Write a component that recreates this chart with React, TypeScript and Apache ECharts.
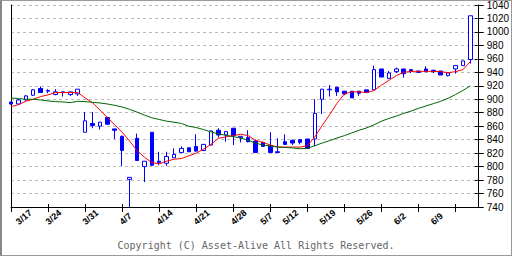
import React, { useEffect, useRef } from "react";
import * as echarts from "echarts";

const dates = [
  "3/17", "3/18", "3/19", "3/21", "3/24", "3/25", "3/26", "3/27", "3/28", "3/31",
  "4/1", "4/2", "4/3", "4/4", "4/7", "4/8", "4/9", "4/10", "4/11", "4/14",
  "4/15", "4/16", "4/17", "4/18", "4/21", "4/22", "4/23", "4/24", "4/25", "4/28",
  "4/30", "5/1", "5/2", "5/7", "5/8", "5/9", "5/12", "5/13", "5/14", "5/15",
  "5/16", "5/19", "5/20", "5/21", "5/22", "5/23", "5/26", "5/27", "5/28", "5/29",
  "5/30", "6/2", "6/3", "6/4", "6/5", "6/6", "6/9", "6/10", "6/11", "6/12",
  "6/13", "6/16", "6/17", ""
];

const labelDates = ["3/17", "3/24", "3/31", "4/7", "4/14", "4/21", "4/28", "5/7", "5/12", "5/19", "5/26", "6/2", "6/9"];

const opens = [
  896, 893, 899, 906, 916, 912, 907, 911, 907, 908,
  851, 864, 860, 873, 856, 845, 781, 842, 800, 851,
  808, 805, 813, 821, 828, 830, 824, 832, 854, 847,
  857, 843, 843, 838, 836, 831, 822, 837, 839, 840,
  841, 841, 900, 914, 918, 912, 912, 912, 914, 914,
  945, 931, 941, 945, 944, 942, 945, 943, 942, 935,
  945, 950, 959
];
const closes = [
  893, 899, 905, 914, 910, 913, 911, 910, 911, 915,
  868, 861, 866, 863, 854, 824, 784, 809, 808, 802,
  806, 815, 818, 827, 822, 823, 833, 853, 847, 852,
  846, 845, 837, 821, 830, 821, 821, 833, 835, 836,
  827, 879, 915, 915, 911, 908, 902, 909, 910, 944,
  933, 939, 945, 938, 942, 940, 941, 941, 936, 939,
  950, 957, 1024
];
const lows = [
  892, 892, 898, 905, 910, 909, 906, 904, 905, 905,
  851, 857, 855, 862, 841, 801, 740, 809, 777, 801,
  802, 801, 813, 821, 822, 822, 823, 832, 843, 837,
  832, 836, 836, 821, 829, 821, 820, 833, 832, 833,
  826, 830, 878, 904, 905, 906, 902, 905, 910, 913,
  933, 930, 939, 932, 939, 939, 940, 939, 936, 934,
  938, 950, 953
];
const highs = [
  896, 900, 906, 915, 919, 915, 915, 911, 911, 915,
  881, 881, 866, 874, 856, 846, 784, 849, 808, 851,
  822, 822, 827, 830, 828, 848, 833, 853, 857, 852,
  857, 845, 854, 840, 837, 851, 842, 848, 840, 840,
  841, 900, 915, 921, 918, 912, 912, 912, 914, 950,
  945, 942, 947, 945, 944, 942, 949, 944, 942, 940,
  951, 957, 1024
];

const maShort = [
  889, 892, 897, 900, 904, 906.5, 910, 910, 910, 910,
  902, 895, 884, 873, 862, 851, 838, 824, 814, 806,
  804, 808, 811, 812, 816, 820, 826, 833, 842, 844,
  846, 848, 846, 839, 836, 832, 829, 829, 829, 829,
  831, 844, 861, 877, 894, 908, 911, 911, 910, 913,
  921, 928, 935, 940, 941.5, 941.5, 941.5, 941.5, 941, 939.5,
  941, 944, 956
];
const maLong = [
  902, 901, 900, 900, 899, 897.5, 896.5, 896, 895, 897,
  896.5, 895.5, 894.5, 893, 891, 888.5, 885, 881, 876.5, 872.5,
  870, 867.5, 866, 864, 860, 858, 855, 851.5, 848.5, 846.5,
  844.5, 842.5, 839, 835, 832, 830.5, 829, 828.3, 827.8, 826.6,
  827, 831, 835, 838.5, 842.5, 846, 850, 854, 857.5, 862,
  867.5, 871.5, 875, 879, 882.5, 886.5, 890, 893.5, 897, 901.5,
  907, 913, 920
];

const yTicksMin = 740;
const yTicksMax = 1040;
const yStep = 20;

export default function App() {
  const ref = useRef<HTMLDivElement>(null);
  useEffect(() => {
    if (!ref.current) return;
    const chart = echarts.init(ref.current, undefined, { renderer: "svg" });
    const candles = opens.map((o, i) => [o, closes[i], lows[i], highs[i]]);
    const labelSet = new Set(labelDates);
    const option: any = {
      animation: false,
      backgroundColor: "#ffffff",
      title: {
        text: "Copyright (C) Asset-Alive All Rights Reserved.",
        left: "center",
        top: 240,
        padding: 0,
        textStyle: { fontFamily: "DejaVu Sans Mono", fontSize: 10, fontWeight: "normal", color: "#666666" },
      },
      grid: { left: 11, right: 33, top: 5, bottom: 49 },
      xAxis: [
        {
          type: "category",
          data: dates,
          boundaryGap: false,
          axisLine: { show: true, lineStyle: { color: "#000", width: 1 } },
          axisTick: { show: true, interval: 4, length: 5, lineStyle: { color: "#000" } },
          axisLabel: {
            show: true,
            interval: (idx: number, val: string) => labelSet.has(val),
            rotate: 40,
            align: "left",
            verticalAlign: "middle",
            margin: 21,
            padding: [0, 0, 0, 8],
            fontSize: 9,
            fontWeight: "bold",
            fontFamily: "Liberation Sans",
            color: "#000",
          },
          splitLine: { show: false },
        },
        {
          type: "category",
          data: dates,
          boundaryGap: false,
          position: "bottom",
          axisLine: { show: false },
          axisTick: { show: true, inside: true, interval: 4, length: 3, lineStyle: { color: "#000" } },
          axisLabel: { show: false },
          splitLine: { show: false },
        },
      ],
      yAxis: [
        {
          type: "value",
          position: "right",
          min: yTicksMin,
          max: yTicksMax,
          interval: yStep,
          axisLine: { show: true, lineStyle: { color: "#000", width: 1 } },
          axisTick: { show: true, length: 6, lineStyle: { color: "#000" } },
          axisLabel: {
            margin: 9,
            fontSize: 10,
            fontFamily: "Liberation Sans",
            color: "#000",
            formatter: (v: number) => String(v),
          },
          splitLine: { show: true, lineStyle: { color: "#bbbbbb", type: [3, 3], width: 1 } },
        },
        {
          type: "value",
          position: "left",
          min: yTicksMin,
          max: yTicksMax,
          interval: yStep,
          axisLine: { show: true, onZero: false, lineStyle: { color: "#000", width: 1 } },
          axisTick: { show: false },
          axisLabel: { show: false },
          splitLine: { show: false },
        },
        {
          type: "value",
          position: "right",
          min: yTicksMin,
          max: yTicksMax,
          interval: yStep,
          axisLine: { show: false },
          axisTick: { show: true, inside: true, length: 3, lineStyle: { color: "#000" } },
          axisLabel: { show: false },
          splitLine: { show: false },
        },
      ],
      series: [
        {
          type: "candlestick",
          data: candles,
          barWidth: 4,
          clip: true,
          itemStyle: {
            color: "#ffffff",
            color0: "#0000ff",
            borderColor: "#0000ff",
            borderColor0: "#0000ff",
            borderWidth: 1,
          },
          z: 2,
        },
        {
          type: "line",
          data: maShort,
          symbol: "none",
          smooth: false,
          lineStyle: { color: "#ff0000", width: 1 },
          z: 3,
        },
        {
          type: "line",
          data: maLong,
          symbol: "none",
          smooth: false,
          lineStyle: { color: "#006600", width: 1 },
          z: 3,
        },
      ],
    };
    chart.setOption(option);
    return () => chart.dispose();
  }, []);
  return (
    <div style={{ position: "fixed", left: 0, top: 0, width: 512, height: 256, background: "#fff" }}>
      <div ref={ref} style={{ position: "absolute", left: 0, top: 0, width: 512, height: 256 }} />
      <div
        style={{
          position: "absolute",
          left: 0,
          top: 0,
          width: 512,
          height: 256,
          boxSizing: "border-box",
          borderTop: "1px solid #999",
          borderLeft: "2px solid #888",
          borderRight: "1px solid #999",
          borderBottom: "1px solid #999",
          pointerEvents: "none",
        }}
      />
    </div>
  );
}
